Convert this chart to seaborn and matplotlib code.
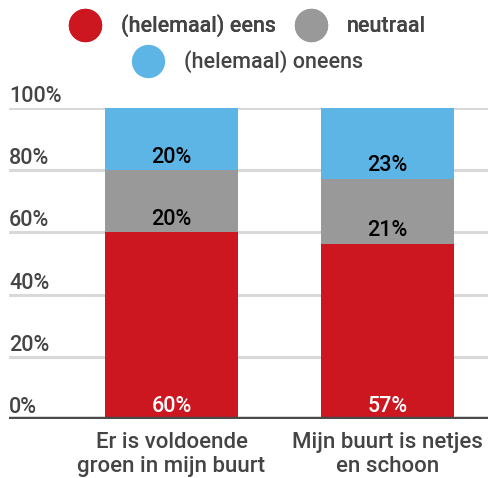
import numpy as np
import pandas as pd
import seaborn as sns
import matplotlib.pyplot as plt
from matplotlib.lines import Line2D
from matplotlib.transforms import blended_transform_factory

sns.set_style('white')
plt.rcParams['font.family'] = ['Roboto', 'DejaVu Sans']
plt.rcParams['font.weight'] = 'medium'

categories = ['Er is voldoende\ngroen in mijn buurt', 'Mijn buurt is netjes\nen schoon']
series = ['(helemaal) eens', 'neutraal', '(helemaal) oneens']
eens = [60, 56.4]
neutraal = [20, 20.9]
oneens = [20, 22.7]
labels_eens = ['60%', '57%']
labels_neutraal = ['20%', '21%']
labels_oneens = ['20%', '23%']
yticks = [0, 20, 40, 60, 80, 100]

colors = ['#CC1620', '#999999', '#5DB5E5']
text_col = '#444444'

df = pd.DataFrame({'cat': categories, 'eens': eens, 'neutraal': neutraal, 'oneens': oneens})
df['top_neutraal'] = df['eens'] + df['neutraal']
df['top_oneens'] = df['top_neutraal'] + df['oneens']

fig = plt.figure(figsize=(4.89, 4.78), dpi=100)
ax = fig.add_axes([9 / 489, 59 / 478, 480 / 489, 311 / 478])

# grid lines first so bars sit on top
for t in yticks[1:]:
    ax.axhline(t, color='#d9d9d9', lw=2.2, zorder=0)

bw = 0.616
for col, c in [('top_oneens', colors[2]), ('top_neutraal', colors[1]), ('eens', colors[0])]:
    sns.barplot(data=df, x='cat', y=col, color=c, width=bw, saturation=1, linewidth=0, ax=ax, zorder=2)

ax.axhline(0, color='#4a4a4a', lw=3.2, zorder=3)

# value labels near the bottom of each segment
fs = 15.5
for i in range(len(categories)):
    ax.text(i, 4.1, labels_eens[i], ha='center', va='center', fontsize=fs, color='white', zorder=4)
    ax.text(i, df['eens'][i] + 4.1, labels_neutraal[i], ha='center', va='center', fontsize=fs, color='black', zorder=4)
    ax.text(i, df['top_neutraal'][i] + 4.1, labels_oneens[i], ha='center', va='center', fontsize=fs, color='black', zorder=4)

ax.set_ylim(0, 100)
ax.set_xlim(-0.752, 1.47)
ax.set_yticks([])
ax.set_xlabel('')
ax.set_ylabel('')
ax.tick_params(axis='x', length=0, labelsize=16, labelcolor=text_col, pad=9.5)
for s in ax.spines.values():
    s.set_visible(False)

trans = blended_transform_factory(ax.transAxes, ax.transData)
for t in yticks:
    ax.text(0, t + 3.7, '%d%%' % t, transform=trans, ha='left', va='center', fontsize=fs, color=text_col, clip_on=False)

def handle(c):
    return Line2D([], [], marker='o', ls='', markersize=23, markerfacecolor=c, markeredgecolor=c)

leg1 = fig.legend([handle(colors[0]), handle(colors[1])], series[:2], loc='center', bbox_to_anchor=(0.5, 1 - 26 / 478),
                  ncol=2, frameon=False, fontsize=fs, handletextpad=0.68, columnspacing=0.63, labelcolor=text_col)
fig.add_artist(leg1)
fig.legend([handle(colors[2])], series[2:], loc='center', bbox_to_anchor=(0.5, 1 - 62 / 478),
           frameon=False, fontsize=fs, handletextpad=0.68, labelcolor=text_col)

plt.savefig('out.png', dpi=100)
plt.close()
